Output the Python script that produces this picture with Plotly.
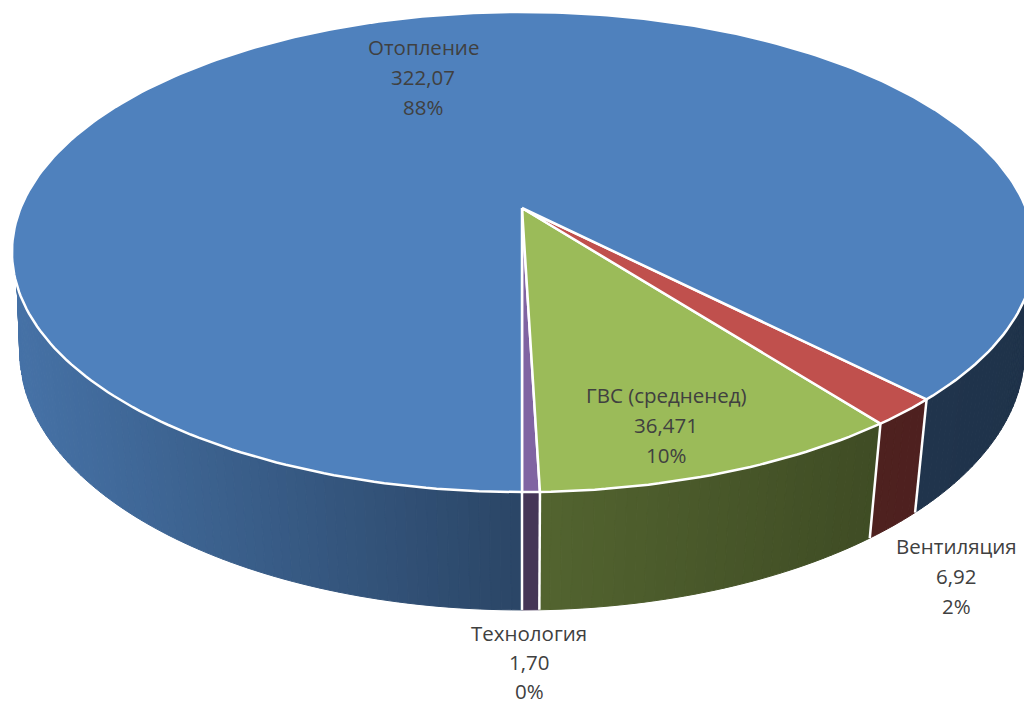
import math
import plotly.graph_objects as go

# Data, in drawing order from the front of the pie, going round to the right
categories = ["Технология", "ГВС (средненед)", "Вентиляция", "Отопление"]
values = [1.70, 36.471, 6.92, 322.07]
value_labels = ["1,70", "36,471", "6,92", "322,07"]
percent_labels = ["0%", "10%", "2%", "88%"]
top_colors = ["#8064A2", "#9BBB59", "#C0504D", "#4F81BD"]
label_centers = [(529, 633), (666, 395), (956, 546), (423, 47)]
label_gaps = [29, 30, 30, 30]

W, H = 1024, 704
FONT = "Open Sans"
FONT_SIZE = 20.5
EDGE = 2.5
WALL_START_Y = 286


def top_rim(t):
    x, y = math.sin(t), math.cos(t)
    w = 1 - 0.1833 * y
    r = 504 if x > 0 else 501.4
    return 522 + r * x / w, 208 + 232 * y / w


def low_rim(t):
    x, y = math.sin(t), math.cos(t)
    w = 1 - 0.17 * y
    return 522 + 495 * x / w, 308 + 250.6 * y / w


def shade(px):
    pts = [(0, 0.88), (14, 0.88), (522, 0.54), (870, 0.41), (1040, 0.39)]
    for (a, fa), (b, fb) in zip(pts, pts[1:]):
        if px <= b:
            return fa + (fb - fa) * (px - a) / (b - a)
    return 0.39


def scaled(color, f):
    r, g, b = (int(color[i:i + 2], 16) for i in (1, 3, 5))
    return f"rgb({round(r * f)},{round(g * f)},{round(b * f)})"


total = sum(values)
bounds = [0.0]
for v in values:
    bounds.append(bounds[-1] + 2 * math.pi * v / total)

fig = go.Figure()
STEP = math.radians(1.0)


def poly(xs, ys, fill, line, width):
    fig.add_trace(go.Scatter(
        x=xs, y=ys, mode="lines", fill="toself", fillcolor=fill,
        line=dict(color=line, width=width), hoverinfo="skip", showlegend=False,
    ))


# Side walls, shaded in narrow bands
for i, color in enumerate(top_colors):
    a0, a1 = bounds[i], bounds[i + 1]
    n = max(1, int((a1 - a0) / STEP))
    for k in range(n):
        t0 = a0 + (a1 - a0) * k / n
        t1 = a0 + (a1 - a0) * (k + 1) / n
        p0, p1 = top_rim(t0), top_rim(t1)
        q0, q1 = low_rim(t0), low_rim(t1)
        if math.cos((t0 + t1) / 2) < -0.25:
            continue
        # On the left the wall starts at a fixed point of the rim and fans out
        if p0[0] < 522 and p0[1] < WALL_START_Y:
            if math.cos(t0) < 0.1:
                continue
            s = t0
            while top_rim(s)[1] < WALL_START_Y:
                s += math.radians(0.1)
            p0 = p1 = top_rim(s)
        c = scaled(color, shade((p0[0] + p1[0]) / 2))
        poly([p0[0], p1[0], q1[0], q0[0], p0[0]],
             [p0[1], p1[1], q1[1], q0[1], p0[1]], c, c, 1)

# White dividers between the walls
for t in bounds[:-1]:
    p, q = top_rim(t), low_rim(t)
    fig.add_trace(go.Scatter(x=[p[0], q[0]], y=[p[1], q[1]], mode="lines",
                             line=dict(color="white", width=EDGE),
                             hoverinfo="skip", showlegend=False))

# Top faces
for i, color in enumerate(top_colors):
    a0, a1 = bounds[i], bounds[i + 1]
    n = max(2, int((a1 - a0) / STEP))
    pts = [top_rim(a0 + (a1 - a0) * k / n) for k in range(n + 1)]
    xs = [522] + [p[0] for p in pts] + [522]
    ys = [208] + [p[1] for p in pts] + [208]
    poly(xs, ys, color, "white", EDGE)

# Labels
annotations = []
for cat, val, pct, (cx, cy), gap in zip(categories, value_labels, percent_labels,
                                        label_centers, label_gaps):
    for j, line in enumerate((cat, val, pct)):
        annotations.append(dict(
            x=cx, y=cy + j * gap, text=line, showarrow=False,
            xanchor="center", yanchor="middle",
            font=dict(family=FONT, size=FONT_SIZE, color="#404040"),
        ))

fig.update_layout(
    width=W, height=H, margin=dict(l=0, r=0, t=0, b=0),
    paper_bgcolor="white", plot_bgcolor="white", annotations=annotations,
    xaxis=dict(range=[0, W], visible=False, fixedrange=True),
    yaxis=dict(range=[H, 0], visible=False, fixedrange=True),
)
fig.write_html("out.html", config={"displayModeBar": False},
               post_script="document.body.style.margin='0';")
